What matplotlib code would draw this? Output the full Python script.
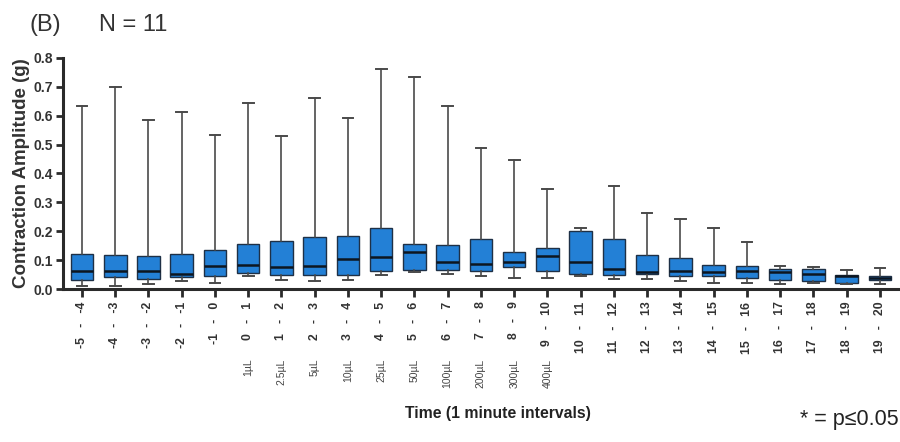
import matplotlib
matplotlib.use("Agg")
import matplotlib.pyplot as plt

plt.rcParams['font.family'] = ['Liberation Sans', 'DejaVu Sans']

# Time intervals (minutes relative to first addition)
intervals = ["-5   -   -4", "-4   -   -3", "-3   -   -2", "-2   -   -1", "-1   -   0",
             "0   -   1", "1   -   2", "2   -   3", "3   -   4", "4   -   5",
             "5   -   6", "6   -   7", "7   -   8", "8   -   9", "9   -   10",
             "10   -   11", "11   -   12", "12   -   13", "13   -   14", "14   -   15",
             "15   -   16", "16   -   17", "17   -   18", "18   -   19", "19   -   20"]

# Volume added at the start of each interval (blank where nothing added)
doses = ["", "", "", "", "",
         "1µL", "2.5µL", "5µL", "10µL", "25µL",
         "50µL", "100µL", "200µL", "300µL", "400µL",
         "", "", "", "", "", "", "", "", "", ""]

# Contraction amplitude (g) summary per interval
whisk_lo = [0.012, 0.010, 0.019, 0.027, 0.021, 0.045, 0.033, 0.027, 0.030, 0.048,
            0.059, 0.053, 0.045, 0.039, 0.039, 0.044, 0.036, 0.036, 0.027, 0.021,
            0.021, 0.019, 0.021, 0.016, 0.019]
q1 = [0.033, 0.042, 0.036, 0.042, 0.044, 0.055, 0.049, 0.047, 0.050, 0.061,
      0.067, 0.067, 0.061, 0.076, 0.061, 0.053, 0.050, 0.053, 0.044, 0.045,
      0.039, 0.033, 0.027, 0.022, 0.033]
median = [0.064, 0.064, 0.064, 0.052, 0.079, 0.084, 0.075, 0.079, 0.105, 0.111,
          0.128, 0.095, 0.087, 0.095, 0.116, 0.095, 0.070, 0.059, 0.064, 0.059,
          0.061, 0.059, 0.053, 0.045, 0.039]
q3 = [0.120, 0.118, 0.115, 0.122, 0.135, 0.156, 0.168, 0.179, 0.183, 0.213,
      0.156, 0.154, 0.175, 0.128, 0.141, 0.200, 0.173, 0.119, 0.107, 0.085,
      0.080, 0.070, 0.068, 0.050, 0.045]
whisk_hi = [0.635, 0.700, 0.585, 0.612, 0.533, 0.645, 0.528, 0.660, 0.593, 0.760,
            0.735, 0.635, 0.487, 0.445, 0.348, 0.210, 0.356, 0.262, 0.244, 0.213,
            0.162, 0.079, 0.078, 0.066, 0.073]

stats = [dict(whislo=lo, q1=a, med=m, q3=b, whishi=hi, fliers=[])
         for lo, a, m, b, hi in zip(whisk_lo, q1, median, q3, whisk_hi)]
positions = list(range(len(stats)))

fig = plt.figure(figsize=(9, 4.42), dpi=100)
ax = fig.add_axes([0.07, 0.346, 0.928, 0.523])

ax.bxp(stats, positions=positions, widths=0.68, patch_artist=True,
       showfliers=False,
       boxprops=dict(facecolor='#2380d6', edgecolor='#1e3046', linewidth=1.0),
       medianprops=dict(color='#0d1620', linewidth=1.8),
       whiskerprops=dict(color='#4a4a4a', linewidth=1.2),
       capprops=dict(color='#4a4a4a', linewidth=1.4),
       capwidths=0.32)

ax.set_xlim(-0.57, 24.55)
ax.set_ylim(0.0, 0.8)
ax.set_yticks([0.0, 0.1, 0.2, 0.3, 0.4, 0.5, 0.6, 0.7, 0.8])
ax.set_yticklabels(["0.0", "0.1", "0.2", "0.3", "0.4", "0.5", "0.6", "0.7", "0.8"],
                   fontsize=10, fontweight='bold', color='#333333')
ax.set_xticks(positions)
ax.set_xticklabels(intervals, rotation=90, fontsize=8.8, fontweight='bold',
                   color='#333333', va='top', ha='center')

for side in ('top', 'right'):
    ax.spines[side].set_visible(False)
for side in ('left', 'bottom'):
    ax.spines[side].set_linewidth(2.2)
    ax.spines[side].set_color('#2a2a2a')
ax.tick_params(axis='both', direction='out', length=5, width=2, color='#2a2a2a', pad=2)
ax.tick_params(axis='x', length=6, pad=3)

ax.set_ylabel("Contraction Amplitude (g)", fontsize=13.5, fontweight='bold',
              color='#333333', labelpad=3)

# Volume labels below the interval labels
for x, d in zip(positions, doses):
    if d:
        ax.annotate(d, xy=(x, 0), xycoords=('data', 'axes fraction'),
                    xytext=(0, -50), textcoords='offset points',
                    rotation=90, fontsize=7.5, color='#444444',
                    ha='center', va='top')

fig.text(0.553, 0.065, "Time (1 minute intervals)", fontsize=11.3, fontweight='bold',
         color='#222222', ha='center', va='center')
fig.text(0.998, 0.05, "* = p≤0.05", fontsize=15.5, color='#222222',
         ha='right', va='center')
fig.text(0.033, 0.943, "(B)", fontsize=17, color='#333333', ha='left', va='center')
fig.text(0.11, 0.943, "N = 11", fontsize=17, color='#333333', ha='left', va='center')

fig.savefig("out.png", dpi=100)
